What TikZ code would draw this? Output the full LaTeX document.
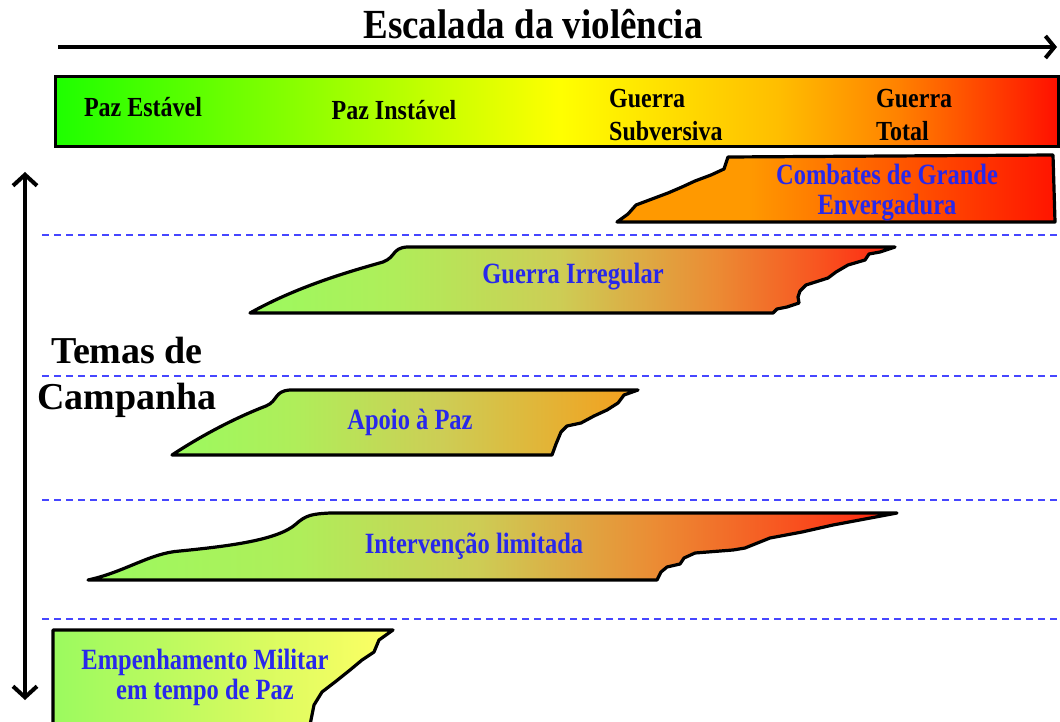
\documentclass[tikz,border=0pt]{standalone}
\usepackage{fontspec}
\setmainfont{Liberation Serif}
\usetikzlibrary{arrows.meta}
\definecolor{bgreen}{RGB}{30,255,0}
\definecolor{byellow}{RGB}{255,255,0}
\definecolor{byorange}{RGB}{255,190,0}
\definecolor{borange}{RGB}{255,130,0}
\definecolor{bred}{RGB}{255,16,0}
\definecolor{lgreen}{RGB}{155,250,95}
\definecolor{mgreen}{RGB}{175,238,90}
\definecolor{khaki}{RGB}{205,205,85}
\definecolor{sorange}{RGB}{235,140,52}
\definecolor{rorange}{RGB}{248,85,32}
\definecolor{sred}{RGB}{255,35,16}
\definecolor{aorange}{RGB}{245,158,28}
\definecolor{corange}{RGB}{255,153,0}
\definecolor{cmid}{RGB}{255,85,0}
\definecolor{cred}{RGB}{255,20,0}
\definecolor{eyellow}{RGB}{255,255,100}
\definecolor{emid}{RGB}{205,250,95}
\definecolor{tblue}{RGB}{40,40,235}
\definecolor{dblue}{RGB}{70,70,255}
\pgfdeclarehorizontalshading{barshade}{100bp}{color(0bp)=(bgreen); color(25bp)=(bgreen); color(50.2bp)=(byellow); color(61bp)=(byorange); color(67bp)=(borange); color(75bp)=(bred); color(100bp)=(bred)}
\pgfdeclarehorizontalshading{irrshade}{100bp}{color(0bp)=(lgreen); color(25bp)=(lgreen); color(36bp)=(mgreen); color(49bp)=(khaki); color(61bp)=(sorange); color(69bp)=(rorange); color(75bp)=(sred); color(100bp)=(sred)}
\pgfdeclarehorizontalshading{aposhade}{100bp}{color(0bp)=(lgreen); color(25bp)=(lgreen); color(38bp)=(mgreen); color(54bp)=(khaki); color(75bp)=(aorange); color(100bp)=(aorange)}
\pgfdeclarehorizontalshading{intshade}{100bp}{color(0bp)=(lgreen); color(25bp)=(lgreen); color(38bp)=(mgreen); color(49bp)=(khaki); color(60bp)=(sorange); color(68bp)=(rorange); color(75bp)=(sred); color(100bp)=(sred)}
\pgfdeclarehorizontalshading{comshade}{100bp}{color(0bp)=(corange); color(25bp)=(corange); color(40bp)=(corange); color(58bp)=(cmid); color(75bp)=(cred); color(100bp)=(cred)}
\pgfdeclarehorizontalshading{empshade}{100bp}{color(0bp)=(lgreen); color(25bp)=(lgreen); color(50bp)=(emid); color(75bp)=(eyellow); color(100bp)=(eyellow)}
\begin{document}
\begin{tikzpicture}[x=1pt,y=-1pt,
  lab/.style={font=\fontsize{24}{29}\selectfont\bfseries, yscale=1.15, inner sep=0pt},
  blab/.style={text=tblue, font=\fontsize{24.5}{25}\selectfont\bfseries, yscale=1.2, inner sep=0pt},
  sect/.style={draw=black, line width=3.2pt, line join=round},
  sep/.style={draw=dblue, line width=1.5pt, dash pattern=on 7pt off 5pt},
  bigarrow/.style={line width=4pt, {Straight Barb[length=11pt,width=24pt]}-{Straight Barb[length=11pt,width=24pt]}},
  toparrow/.style={line width=4pt, -{Straight Barb[length=9pt,width=22pt]}}]
\clip (0,0) rectangle (1060,722);
\fill[white] (0,0) rectangle (1060,722);

% title and arrow
\node[font=\fontsize{37}{40}\selectfont\bfseries, yscale=1.12, inner sep=0pt] (title) at (533,24) {Escalada da violência};
\coordinate (hs) at (58,47);
\coordinate (he) at (1057,47);
\draw[toparrow] (hs) -- (he);

% spectrum bar
\path[shade, shading=barshade, draw=black, line width=3pt] (55,77) rectangle (1058,147);
\node[lab] (pe) at (143,107) {Paz Estável};
\node[lab] (pi) at (394,110) {Paz Instável};
\node[lab, anchor=west, align=left] (gs) at (609,115) {Guerra\\Subversiva};
\node[lab, anchor=west, align=left] (gt) at (876,115) {Guerra\\Total};

% separators
\draw[sep] (42,235) -- (1060,235);
\draw[sep] (42,376) -- (1060,376);
\draw[sep] (42,500) -- (1060,500);
\draw[sep] (42,619) -- (1060,619);

% vertical arrow
\coordinate (vt) at (25,172);
\coordinate (vb) at (25,700);
\draw[bigarrow] (vt) -- (vb);

\node[font=\fontsize{38}{46}\selectfont\bfseries, align=center, inner sep=0pt] (temas) at (127,377) {Temas de\\Campanha};

% Combates de Grande Envergadura
\path[shade, shading=comshade, sect]
  (728,157) -- (1053,155) -- (1055,222) -- (617,222) -- (628,214) -- (636,205)
  -- (652,199) -- (668,193) -- (682,187) -- (695,181) -- (711,175) -- (724,169) -- cycle;
\node[blab, align=center] (cge) at (887,193) {Combates de Grande\\Envergadura};

% Guerra Irregular
\path[shade, shading=irrshade, sect]
  (250,313) .. controls (300,285) and (355,270) .. (383,262)
  .. controls (396,257) and (392,248) .. (407,247) -- (895,247)
  -- (880,252) -- (869,254) -- (865,260) -- (848,265) -- (836,272) -- (828,278)
  -- (806,285) -- (800,291) -- (798,297) -- (799,303) -- (787,307) -- (777,309) -- (773,313) -- cycle;
\node[blab] (gi) at (573,277) {Guerra Irregular};

% Apoio a Paz
\path[shade, shading=aposhade, sect]
  (172,455) .. controls (210,430) and (245,414) .. (266,406)
  .. controls (278,401) and (274,391) .. (290,390) -- (638,390)
  -- (624,395) -- (618,403) -- (607,410) -- (594,416) -- (581,423) -- (567,426)
  -- (561,432) -- (556,444) -- (552,455) -- cycle;
\node[blab] (ap) at (410,422) {Apoio à Paz};

% Intervencao limitada
\path[shade, shading=intshade, sect]
  (88,580) .. controls (125,572) and (150,553) .. (180,551)
  .. controls (230,546) and (278,540) .. (296,524)
  .. controls (306,515) and (312,514) .. (330,513) -- (897,513)
  -- (865,519) -- (833,525) -- (802,532) -- (770,538) -- (745,548) -- (733,550)
  -- (695,553) -- (684,558) -- (680,564) -- (667,567) -- (661,572) -- (657,580) -- cycle;
\node[blab] (il) at (474,546) {Intervenção limitada};

% Empenhamento Militar
\path[shade, shading=empshade, sect]
  (53,630) -- (393,630) -- (379,640) -- (374,652) -- (362,660) -- (350,670)
  -- (335,682) -- (322,692) -- (314,705) -- (308,735) -- (53,735) -- cycle;
\node[blab, align=center] (em) at (205,677) {Empenhamento Militar\\em tempo de Paz};
\end{tikzpicture}
\end{document}
